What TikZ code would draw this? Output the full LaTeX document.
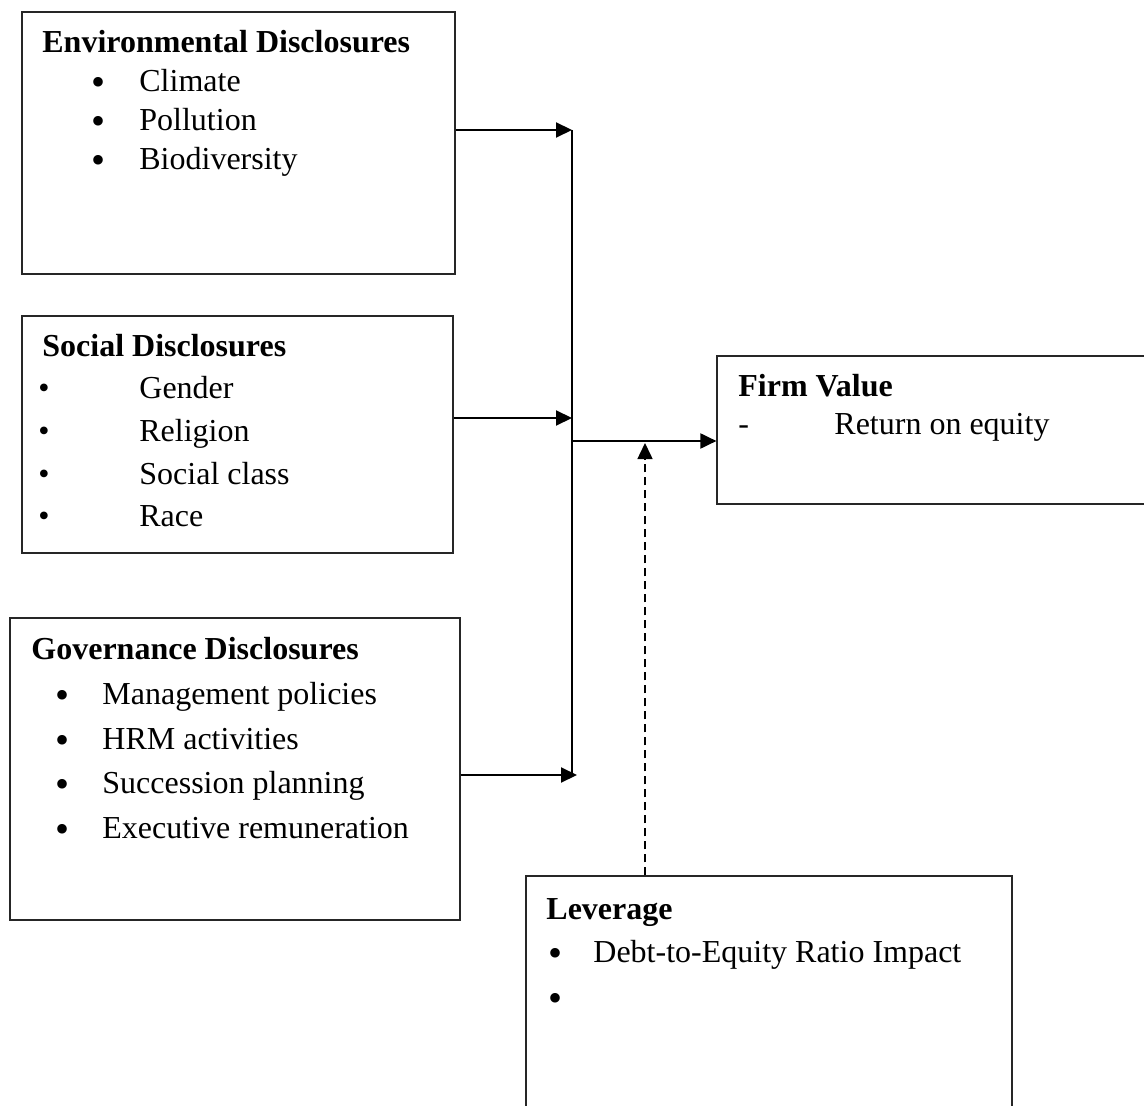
\documentclass[tikz,border=0pt]{standalone}
\usepackage{fontspec}
\setmainfont{Liberation Serif}
\usetikzlibrary{arrows.meta}
\tikzset{
  box/.style={draw=black!85, line width=0.6pt, rectangle, inner sep=0pt},
  lbl/.style={anchor=base west, inner sep=0pt, font=\fontsize{16pt}{19pt}\selectfont},
  ttl/.style={lbl, font=\fontsize{16pt}{19pt}\selectfont\bfseries},
  bigbul/.style={anchor=base, inner sep=0pt, font=\fontsize{20pt}{20pt}\selectfont},
  smbul/.style={anchor=base, inner sep=0pt, font=\fontsize{16pt}{19pt}\selectfont},
  arr/.style={line width=1pt, -{Triangle[length=8pt,width=7.5pt]}},
  bus/.style={line width=1pt}
}
\begin{document}
\begin{tikzpicture}[x=0.5pt,y=-0.5pt]
\useasboundingbox (0,0) rectangle (1144,1106);
\clip (0,0) rectangle (1144,1106);
\fill[white] (0,0) rectangle (1144,1106);

% boxes
\node[box, minimum width=216.5pt, minimum height=131pt] (env) at (238.5,143) {};
\node[box, minimum width=215.5pt, minimum height=118.5pt] (soc) at (237.5,434.5) {};
\node[box, minimum width=225pt, minimum height=151pt] (gov) at (235,769) {};
\node[box, minimum width=216.5pt, minimum height=74pt] (firm) at (933.5,430) {};
\node[box, minimum width=243pt, minimum height=122pt] (lev) at (769,998) {};

% Environmental
\node[ttl] (envt) at (42,53) {Environmental Disclosures};
\node[bigbul] (envb1) at (98,96) {\smash{•}};
\node[bigbul] (envb2) at (98,135) {\smash{•}};
\node[bigbul] (envb3) at (98,174) {\smash{•}};
\node[lbl] (env1) at (139,92) {Climate};
\node[lbl] (env2) at (139,131) {Pollution};
\node[lbl] (env3) at (139,170) {Biodiversity};

% Social
\node[ttl] (soct) at (42,357) {Social Disclosures};
\node[smbul] (socb1) at (44,399) {\smash{•}};
\node[smbul] (socb2) at (44,442) {\smash{•}};
\node[smbul] (socb3) at (44,484) {\smash{•}};
\node[smbul] (socb4) at (44,526) {\smash{•}};
\node[lbl] (soc1) at (139,399) {Gender};
\node[lbl] (soc2) at (139,442) {Religion};
\node[lbl] (soc3) at (139,484) {Social class};
\node[lbl] (soc4) at (139,526) {Race};

% Governance
\node[ttl] (govt) at (31,659) {Governance Disclosures};
\node[bigbul] (govb1) at (63,708) {\smash{•}};
\node[bigbul] (govb2) at (63,753) {\smash{•}};
\node[bigbul] (govb3) at (63,797) {\smash{•}};
\node[bigbul] (govb4) at (63,842) {\smash{•}};
\node[lbl] (gov1) at (102,704) {Management policies};
\node[lbl] (gov2) at (102,749) {HRM activities};
\node[lbl] (gov3) at (102,793) {Succession planning};
\node[lbl] (gov4) at (102,838) {Executive remuneration};

% Firm value
\node[ttl] (firmt) at (738,397) {Firm Value};
\node[lbl] (firmd) at (738,435) {-};
\node[lbl] (firm1) at (834,435) {Return on equity};

% Leverage
\node[ttl] (levt) at (546,919) {Leverage};
\node[bigbul] (levb1) at (555,966) {\smash{•}};
\node[bigbul] (levb2) at (555,1011) {\smash{•}};
\node[lbl] (lev1) at (593,962) {Debt-to-Equity Ratio Impact};

% connectors
\coordinate (j1) at (572,130);
\coordinate (j2) at (572,418);
\coordinate (j3) at (572,775);
\coordinate (j3t) at (577,775);
\coordinate (jo) at (572,441);
\coordinate (jm) at (645,443);

\draw[bus] (j1) -- (j3);
\draw[arr] (env.east |- j1) -- (j1);
\draw[arr] (soc.east |- j2) -- (j2);
\draw[arr] (gov.east |- j3t) -- (j3t);
\draw[arr] (jo) -- (firm.west |- jo);
\draw[arr, dash pattern=on 4pt off 2.5pt, line width=0.75pt] (lev.north -| jm) -- (jm);
\end{tikzpicture}
\end{document}
